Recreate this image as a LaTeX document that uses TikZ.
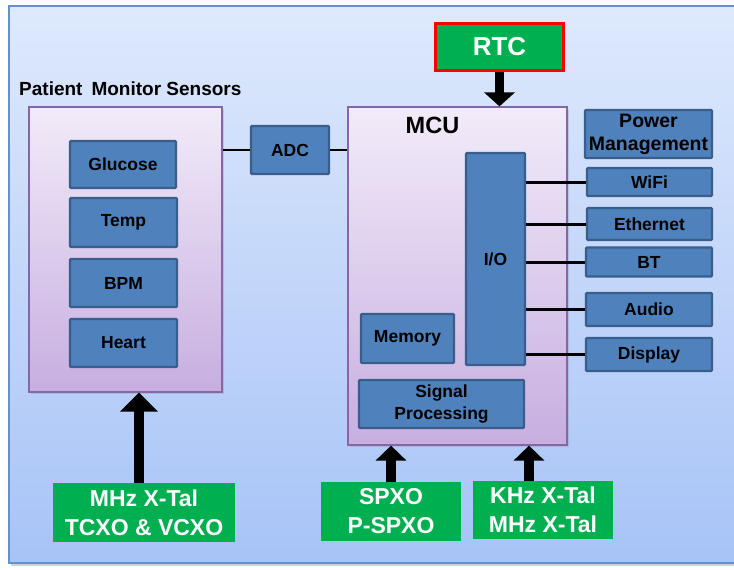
\documentclass[tikz,border=0pt]{standalone}
\usepackage{fontspec}
\setmainfont{Liberation Sans}
\usetikzlibrary{arrows.meta,shadows}

\definecolor{bgtop}{HTML}{DEE9FC}
\definecolor{bgbot}{HTML}{A7C3F7}
\definecolor{bgedge}{HTML}{6590CB}
\definecolor{lilactop}{HTML}{F2EBF9}
\definecolor{lilacbot}{HTML}{C7AEE0}
\definecolor{lilacedge}{HTML}{8766A8}
\definecolor{boxblue}{HTML}{4F81BD}
\definecolor{boxedge}{HTML}{3A5E8B}
\definecolor{xtal}{HTML}{00B050}
\definecolor{rtcedge}{HTML}{FF0000}

\tikzset{
  panel/.style={rectangle, draw=lilacedge, line width=1.2pt,
    top color=lilactop, bottom color=lilacbot, inner sep=0pt,
    drop shadow={opacity=0.25, shadow xshift=1.5pt, shadow yshift=-1.5pt}},
  block/.style={rectangle, fill=boxblue, draw=boxedge, line width=2.4pt,
    rounded corners=1pt, inner sep=0pt, align=center, text=black,
    font=\fontsize{17.5}{22}\selectfont\bfseries},
  xtalbox/.style={rectangle, fill=xtal, inner sep=0pt, align=center,
    text=white, font=\fontsize{23}{29}\selectfont\bfseries},
  wire/.style={draw=black, line width=2pt},
  iowire/.style={draw=black, line width=3pt},
  feed/.style={draw=black, line width=10pt, -{Triangle[width=30pt,length=15pt]}},
}

\begin{document}
\begin{tikzpicture}[x=1pt,y=-1pt]
\useasboundingbox (0,0) rectangle (734,570);
\clip (0,0) rectangle (734,570);

% background frame
\fill[black, opacity=0.18] (11,9) rectangle (745,566);
\draw[bgedge, line width=1.8pt, top color=bgtop, bottom color=bgbot]
  (9,6) rectangle (745,563);

% sensor panel
\node[anchor=west, inner sep=0pt, font=\fontsize{19}{22}\selectfont\bfseries]
  (senstitle) at (19,89) {Patient\hspace{9pt}Monitor Sensors};
\node[panel, minimum width=193pt, minimum height=285pt] (sens) at (125.5,249.5) {};
\node[block, minimum width=106pt, minimum height=47pt] (glucose) at (123,164.5) {Glucose};
\node[block, minimum width=107pt, minimum height=49pt] (temp) at (123.5,222.5) {Temp};
\node[block, minimum width=107pt, minimum height=48pt] (bpm) at (123.5,283) {BPM};
\node[block, minimum width=107pt, minimum height=48pt] (heart) at (123.5,343) {Heart};

% converter
\node[block, minimum width=78pt, minimum height=48pt] (adc) at (290,150) {ADC};

% microcontroller
\node[panel, minimum width=219pt, minimum height=338pt] (mcu) at (457.5,276) {};
\node[font=\fontsize{23.5}{26}\selectfont\bfseries] (mcutitle) at (432.5,125) {MCU};
\node[block, minimum width=59pt, minimum height=212pt] (io) at (495.5,259) {I/O};
\node[block, minimum width=93pt, minimum height=49pt] (memory) at (407.5,338.5) {Memory};
\node[block, minimum width=165pt, minimum height=48pt] (sigproc) at (441.5,404) {Signal\\Processing};

% real-time clock
\node[rectangle, fill=xtal, draw=rtcedge, line width=3.5pt, minimum width=128pt,
  minimum height=47pt, text=white, font=\fontsize{26}{30}\selectfont\bfseries]
  (rtc) at (499.5,47) {RTC};

% peripherals
\node[block, minimum width=127pt, minimum height=48pt, font=\fontsize{19.5}{23}\selectfont\bfseries]
  (power) at (648.5,134) {Power\\Management};
\node[block, minimum width=125pt, minimum height=28pt] (wifi) at (649.5,182) {WiFi};
\node[block, minimum width=125pt, minimum height=32pt] (eth) at (649.5,224) {Ethernet};
\node[block, minimum width=126pt, minimum height=29pt] (bt) at (649,262) {BT};
\node[block, minimum width=126pt, minimum height=33pt] (audio) at (649,309.5) {Audio};
\node[block, minimum width=126pt, minimum height=33pt] (display) at (649,354.5) {Display};

% clock sources
\node[xtalbox, minimum width=182pt, minimum height=59pt] (xtalA) at (144,512.5) {MHz X-Tal\\TCXO \& VCXO};
\node[xtalbox, minimum width=140pt, minimum height=59pt] (xtalB) at (391,511.5) {SPXO\\P-SPXO};
\node[xtalbox, minimum width=140pt, minimum height=58pt] (xtalC) at (543,510) {KHz X-Tal\\MHz X-Tal};

% signal wiring
\path[wire] (adc.west -| sens.east) -- (adc.west);
\path[wire] (adc.east) -- (adc.east -| mcu.west);
\path[iowire] (io.east |- wifi.west) -- (wifi.west);
\path[iowire] (io.east |- eth.west) -- (eth.west);
\path[iowire] (io.east |- bt.west) -- (bt.west);
\path[iowire] (io.east |- audio.west) -- (audio.west);
\path[iowire] (io.east |- display.west) -- (display.west);

% clock feeds
\coordinate (feedA) at (139,0);
\coordinate (feedC) at (529,0);
\draw[feed, -{Triangle[width=37pt,length=19pt]}] (xtalA.north -| feedA) -- (sens.south -| feedA);
\draw[feed] (xtalB.north) -- (xtalB.north |- mcu.south);
\draw[feed] (xtalC.north -| feedC) -- (mcu.south -| feedC);
\draw[feed, line width=9pt, -{Triangle[width=30pt,length=14pt]}] (rtc.south) -- (rtc.south |- mcu.north);
\end{tikzpicture}
\end{document}
